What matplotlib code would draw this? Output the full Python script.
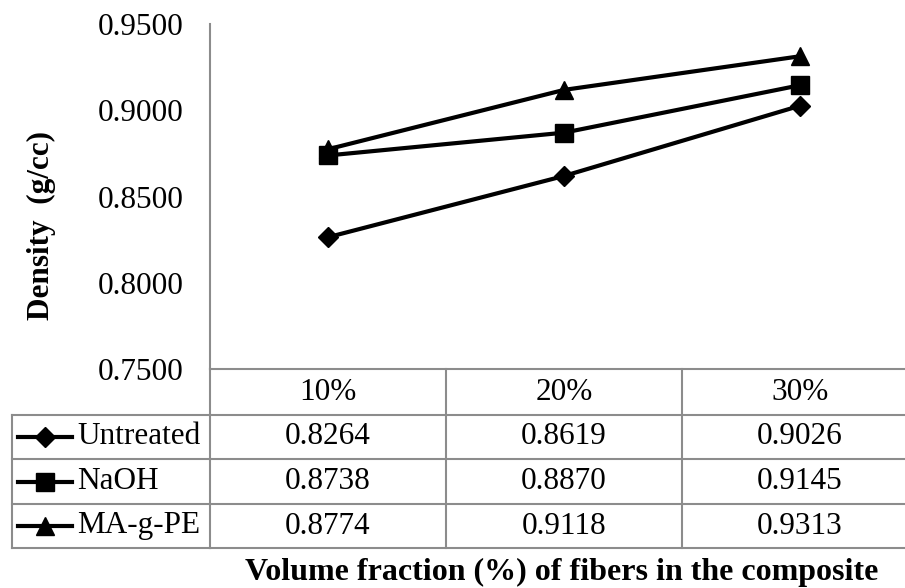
import matplotlib
matplotlib.use('Agg')
import matplotlib.pyplot as plt
from matplotlib.lines import Line2D
import matplotlib.transforms as mtransforms

### data
categories = ['10%', '20%', '30%']
series_names = ['Untreated', 'NaOH', 'MA-g-PE']
untreated = [0.8264, 0.8619, 0.9026]
naoh = [0.8738, 0.8870, 0.9145]
mapepe = [0.8774, 0.9118, 0.9313]
y_ticks = [0.75, 0.80, 0.85, 0.90, 0.95]

plt.rcParams['font.family'] = ['Liberation Serif', 'DejaVu Serif']
fs = 22.5
grey = '#8c8c8c'

W, H = 905, 588
fig = plt.figure(figsize=(W / 100, H / 100), dpi=100)
ax = fig.add_axes([210 / W, 1 - 369 / H, (918 - 210) / W, (369 - 24) / H])

series = [untreated, naoh, mapepe]
markers = ['D', 's', '^']
msizes = [10, 12.5, 13]
xs = list(range(len(categories)))
for vals, mk, ms in zip(series, markers, msizes):
    ax.plot(xs, vals, color='black', lw=3, marker=mk, ms=ms, clip_on=False)

ax.set_xlim(-0.5, 2.5)
ax.set_ylim(0.75, 0.95)
ax.set_yticks(y_ticks)
ax.set_yticklabels(['%.4f' % v for v in y_ticks], fontsize=fs)
ax.tick_params(axis='y', length=0, pad=19)
ax.set_xticks([])
for s in ['top', 'right', 'bottom']:
    ax.spines[s].set_visible(False)
ax.spines['left'].set_color(grey)
ax.spines['left'].set_linewidth(1.5)

ax.set_ylabel('Density  (g/cc)', fontsize=fs, fontweight='bold')
ax.yaxis.set_label_coords(56 / W, 1 - 226 / H, transform=fig.transFigure)

# data table under the axis (x in data coords, y in figure pixels)
tr = mtransforms.blended_transform_factory(ax.transData, fig.transFigure)
def fy(py):
    return 1 - py / H

row_y = [369, 415, 459, 504, 548]
lw_t = 1.5
# horizontal lines over the data columns
for py in row_y:
    fig.add_artist(Line2D([-0.5, 2.5], [fy(py)] * 2, transform=tr, color=grey, lw=lw_t, clip_on=False))
# vertical lines
for xb in [-0.5, 0.5, 1.5, 2.5]:
    fig.add_artist(Line2D([xb, xb], [fy(369), fy(548)], transform=tr, color=grey, lw=lw_t, clip_on=False))
# row label block
for py in row_y[1:]:
    fig.add_artist(Line2D([12 / W, 210 / W], [fy(py)] * 2, transform=fig.transFigure, color=grey, lw=lw_t))
fig.add_artist(Line2D([12 / W, 12 / W], [fy(415), fy(548)], transform=fig.transFigure, color=grey, lw=lw_t))

for i, c in enumerate(categories):
    fig.text(i, fy(393), c, transform=tr, ha='center', va='center', fontsize=fs)

for r, (name, vals, mk, ms) in enumerate(zip(series_names, series, markers, msizes)):
    yc = fy((row_y[r + 1] + row_y[r + 2]) / 2)
    fig.add_artist(Line2D([18 / W, 72 / W], [yc, yc], transform=fig.transFigure,
                          color='black', lw=3))
    fig.add_artist(Line2D([45 / W], [yc], transform=fig.transFigure, color='black',
                          marker=mk, ms=ms, lw=0))
    fig.text(77 / W, yc, name, ha='left', va='center', fontsize=fs)
    for i, v in enumerate(vals):
        fig.text(i, yc, '%.4f' % v, transform=tr, ha='center', va='center', fontsize=fs)

fig.text(562 / W, fy(572), 'Volume fraction (%) of fibers in the composite',
         ha='center', va='center', fontsize=23, fontweight='bold')

fig.savefig('out.png', dpi=100)
